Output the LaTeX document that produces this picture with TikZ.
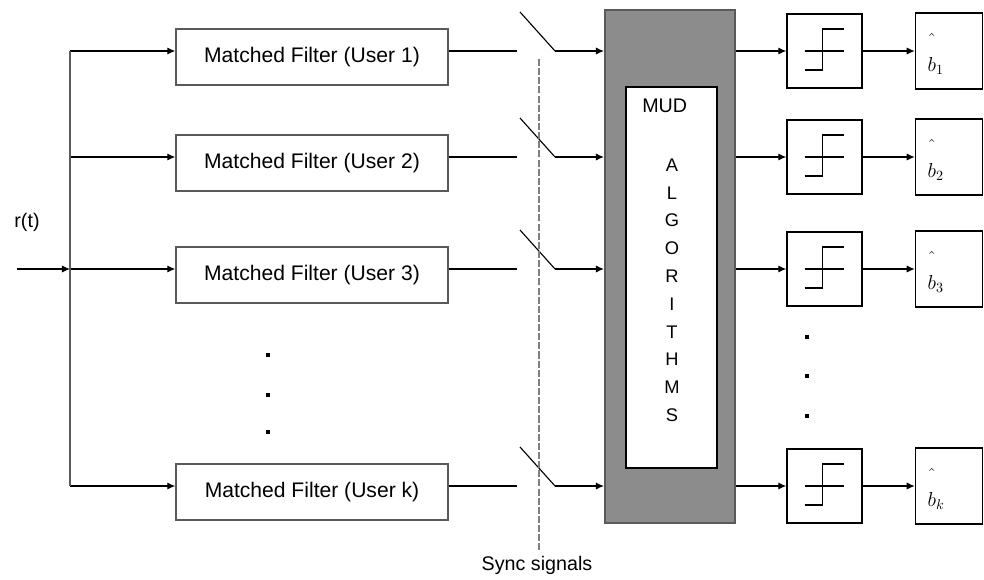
\documentclass[tikz,border=0pt]{standalone}
\usepackage{fontspec}
\setmainfont{Liberation Sans}
\usetikzlibrary{arrows.meta,positioning,calc}
\definecolor{mudgray}{HTML}{8C8C8C}
\definecolor{edge}{HTML}{5A5A5A}

\begin{document}
\begin{tikzpicture}[x=0.025cm,y=-0.025cm,
 filt/.style={draw=edge,line width=1pt,minimum width=6.8cm,minimum height=1.4cm,inner sep=0pt,font=\fontsize{15}{17}\selectfont},
 lim/.style={draw=black,line width=1pt,minimum width=1.875cm,minimum height=1.85cm,inner sep=0pt},
 outb/.style={draw=black,line width=1pt,minimum width=1.675cm,minimum height=1.9cm,inner sep=0pt},
 arr/.style={-{Latex[length=2mm,width=1.8mm]},line width=.8pt},
 wire/.style={line width=.8pt},
 bdot/.style={fill=black,minimum size=3pt,inner sep=0pt}]
\useasboundingbox (0,0) rectangle (984,579);
% MUD block
\node[fill=mudgray,draw=edge,line width=1.5pt,minimum width=3.25cm,minimum height=12.825cm,inner sep=0pt] (mud) at (670,266.5) {};
\node[fill=white,draw=black,line width=1pt,minimum width=2.275cm,minimum height=9.525cm,inner sep=0pt] (alg) at (671.5,277.5) {};
\node[anchor=north west,font=\fontsize{14}{16}\selectfont] at ($(alg.north west)+(12,8)$) {MUD};
\foreach \c [count=\i from 0] in {A,L,G,O,R,I,T,H,M,S}
  \node[font=\fontsize{13}{15}\selectfont] at (672,165+27.8*\i) {\c};
% rows
\foreach \n/\y in {1/51,2/157,3/269,k/486}{
  \coordinate (b\n) at (70,\y);
  \node[filt] (f\n) at (312,\y+6) {Matched Filter (User \n)};
  \draw[arr] (b\n) -- (b\n -| f\n.west);
  \coordinate (s\n) at (517,\y);
  \coordinate (p\n) at (555,\y);
  \draw[wire] (f\n.east |- b\n) -- (s\n);
  \draw[wire] (p\n) -- +(-35,-39);
  \draw[arr] (p\n) -- (b\n -| mud.west);
  \node[lim] (l\n) at (824.5,\y) {};
  \draw[arr] (b\n -| mud.east) -- (l\n);
  \draw[wire] ($(l\n)+(-20,0)$) -- +(39,0);
  \draw[wire] ($(l\n)+(-20,19)$) -- +(18,0) -- +(18,-41) -- +(39,-41);
  \node[outb,right=1.3cm of l\n] (o\n) {};
  \draw[arr] (l\n) -- (o\n);
  \node[anchor=base west,font=\Large] at ($(o\n.west)+(8,20)$) {$\hat{\smash{b}\rule{0pt}{1.6em}}_\n$};
}
% input and bus
\node[font=\fontsize{14}{16}\selectfont] (rt) at (27,222) {r(t)};
\coordinate (in) at (17,269);
\draw[arr] (in) -- (b3);
\draw[wire,edge] (b1) -- (bk);
% sync
\coordinate (synctop) at (539,59);
\node[font=\fontsize{14}{16}\selectfont] (sync) at (537,565) {Sync signals};
\draw[gray,line width=2pt,dash pattern=on 5pt off 1.5pt] (synctop) -- (synctop |- sync.north);
% dots
\foreach \y in {355,395,432} \node[bdot] at (268,\y) {};
\foreach \y in {337,376,416} \node[bdot] at (807,\y) {};
\end{tikzpicture}
\end{document}
